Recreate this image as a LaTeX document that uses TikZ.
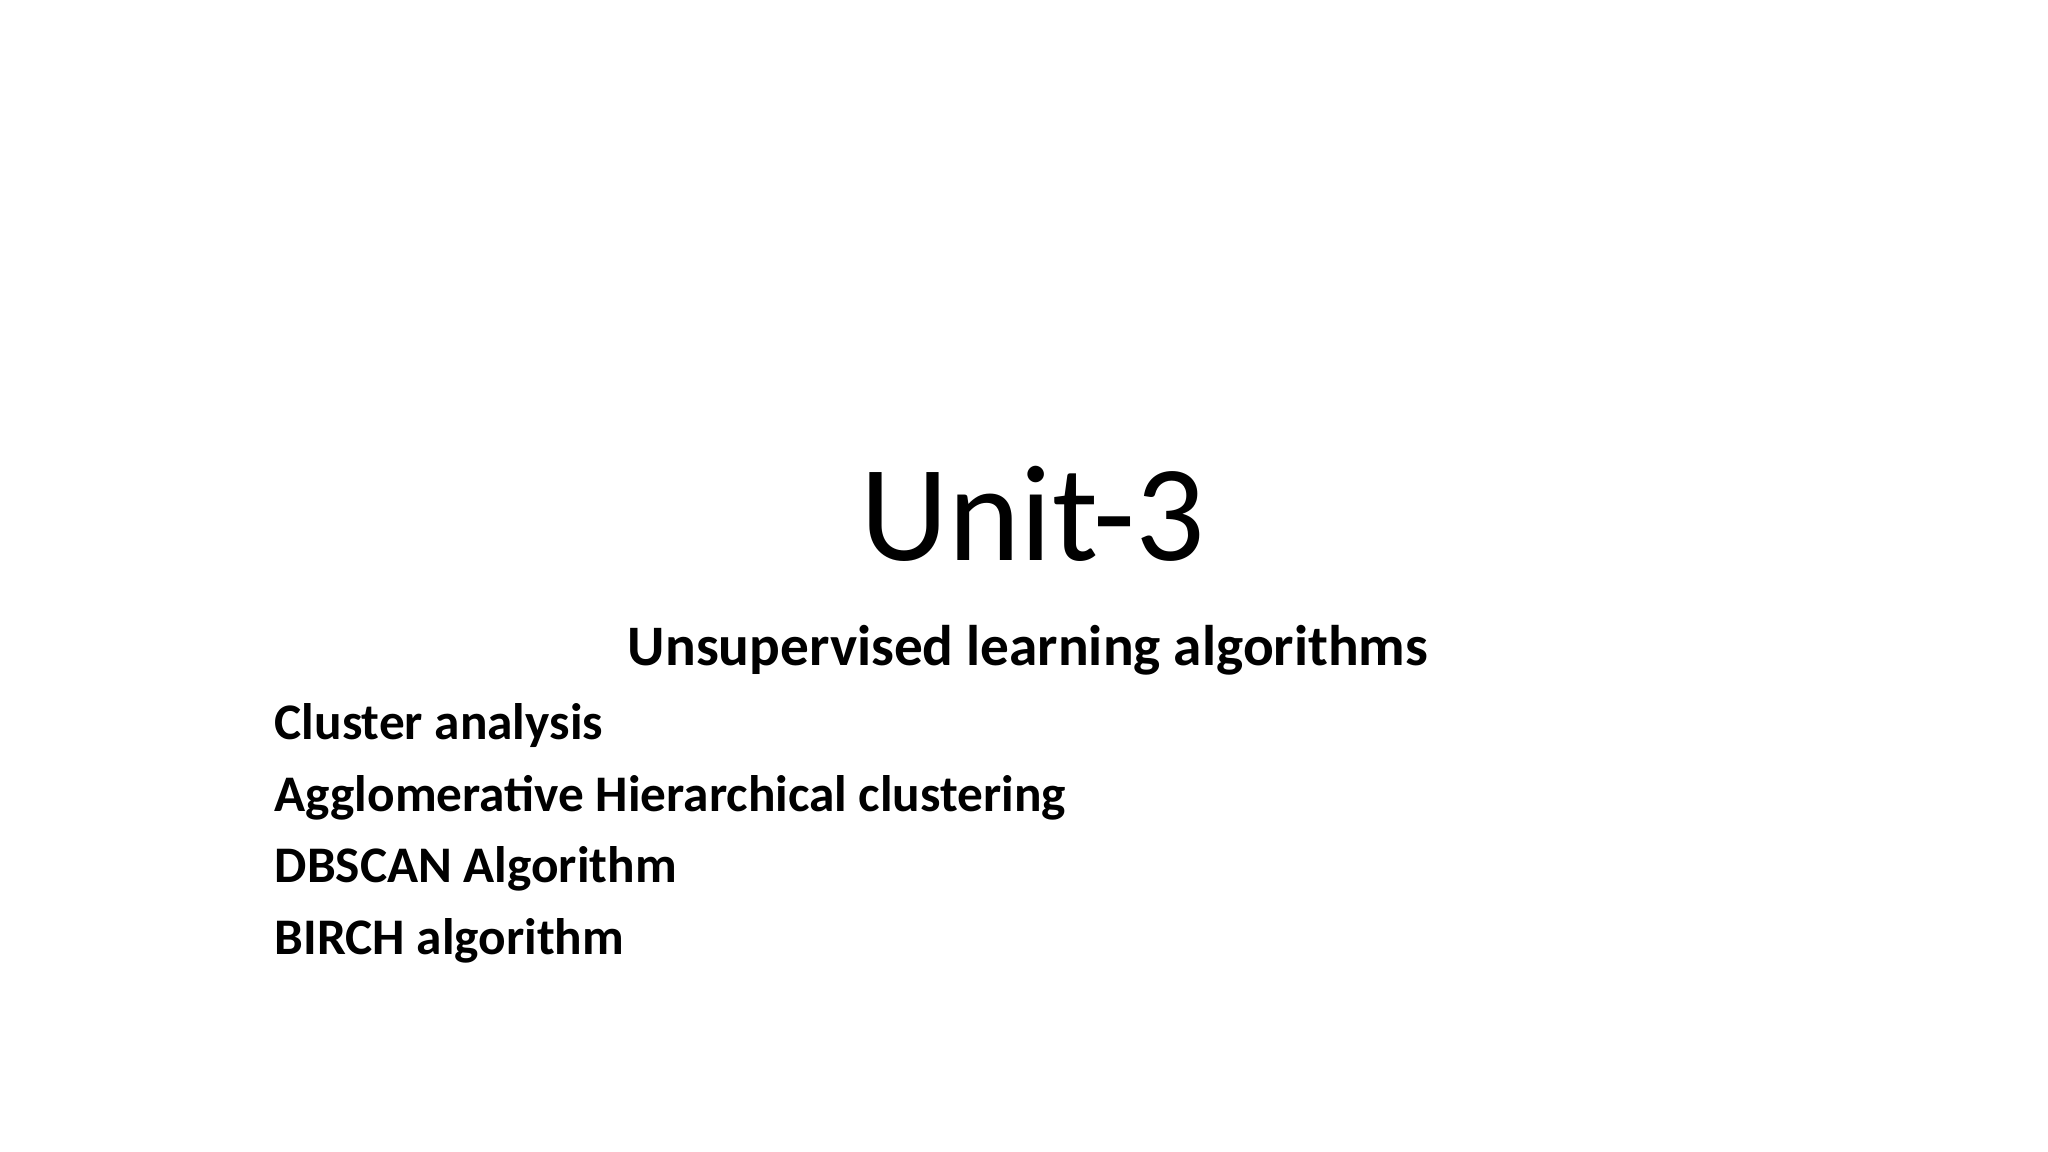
\documentclass[tikz,border=0pt]{standalone}
\usepackage{fontspec}
\setmainfont{Carlito}
\begin{document}
\begin{tikzpicture}[x=0.1mm,y=-0.1mm,
  item/.style={anchor=base west,inner sep=0pt,font=\fontsize{14.6pt}{16pt}\selectfont\bfseries}]
\useasboundingbox[fill=white] (0,0) rectangle (2048,1152);
\node[anchor=base,inner sep=0pt,font=\fontsize{39pt}{44pt}\selectfont] (title) at (1033,561) {Unit-3};
\node[anchor=base,inner sep=0pt,font=\fontsize{16.3pt}{18pt}\selectfont\bfseries] (sub) at (1028,666) {Unsupervised learning algorithms};
\node[item] (i1) at (274,740) {Cluster analysis};
\node[item] (i2) at (274,812) {Agglomerative Hierarchical clustering};
\node[item] (i3) at (274,883) {DBSCAN Algorithm};
\node[item] (i4) at (274,955) {BIRCH algorithm};
\end{tikzpicture}
\end{document}
